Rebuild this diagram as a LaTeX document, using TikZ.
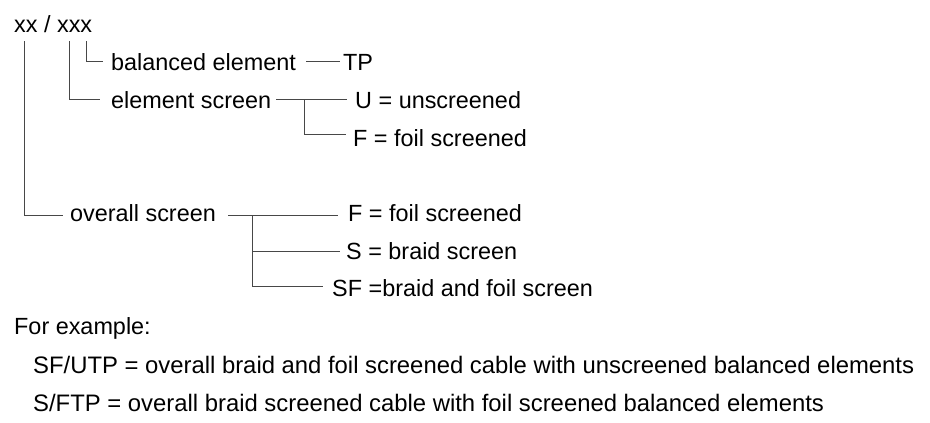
\documentclass[tikz,border=0pt]{standalone}
\usepackage{fontspec}
\setmainfont{Liberation Sans}
\begin{document}
\begin{tikzpicture}[x=1pt,y=-1pt,
  lbl/.style={anchor=base west, inner sep=0pt, font=\fontsize{23.4}{28}\selectfont},
  exl/.style={lbl, font=\fontsize{23.85}{28}\selectfont},
  conn/.style={draw=black!72, line width=1pt}]
\useasboundingbox[fill=white] (0,0) rectangle (930,423);
% labels
\node[lbl] (code) at (14,32) {xx / xxx};
\node[lbl] (bal) at (111,70) {balanced element};
\node[lbl] (tp) at (343,70) {TP};
\node[lbl] (es) at (111,108) {element screen};
\node[lbl] (u) at (355,108) {U = unscreened};
\node[lbl] (f1) at (353,146) {F = foil screened};
\node[lbl] (os) at (70,221) {overall screen};
\node[lbl] (f2) at (348,221) {F = foil screened};
\node[lbl] (s) at (346,259) {S = braid screen};
\node[lbl] (sf) at (332,296) {SF =braid and foil screen};
\node[lbl] (ex) at (14,334) {For example:};
\node[exl] (e1) at (33,373) {SF/UTP = overall braid and foil screened cable with unscreened balanced elements};
\node[exl] (e2) at (33,411) {S/FTP = overall braid screened cable with foil screened balanced elements};
% junctions
\coordinate (j1) at (304,99);
\coordinate (j2) at (252,215);
% connectors
\draw[conn] ([xshift=10pt,yshift=-9pt]code.base west) |- ([xshift=-7pt,yshift=6pt]os.base west);
\draw[conn] ([xshift=55pt,yshift=-9pt]code.base west) |- ([xshift=-11pt,yshift=9pt]es.base west);
\draw[conn] ([xshift=72pt,yshift=-9pt]code.base west) |- ([xshift=-8pt,yshift=9pt]bal.base west);
\draw[conn] ([xshift=10pt,yshift=9pt]bal.base east) -- ([xshift=-3pt,yshift=9pt]tp.base west);
\draw[conn] ([xshift=5pt,yshift=9pt]es.base east) -- ([xshift=-8pt,yshift=9pt]u.base west);
\draw[conn] (j1) |- ([xshift=-7pt,yshift=12pt]f1.base west);
\draw[conn] ([xshift=12pt,yshift=6pt]os.base east) -- ([xshift=-10pt,yshift=6pt]f2.base west);
\draw[conn] (j2) |- ([xshift=-6pt,yshift=8pt]s.base west);
\draw[conn] (j2) |- ([xshift=-9pt,yshift=10pt]sf.base west);
\end{tikzpicture}
\end{document}
